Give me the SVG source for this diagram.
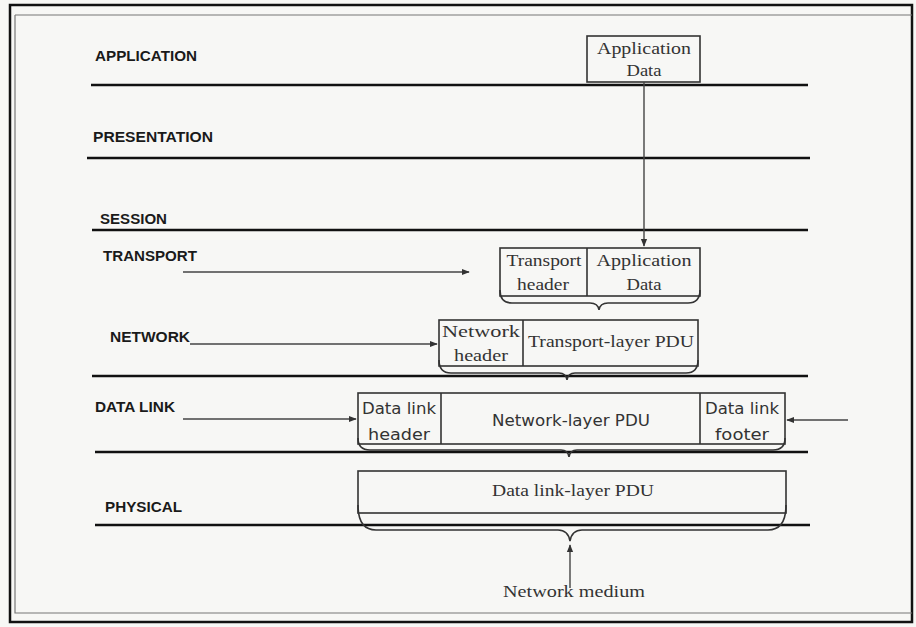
<svg xmlns="http://www.w3.org/2000/svg" width="916" height="627" viewBox="0 0 916 627">
<defs>
<style>
.bg{fill:#f7f7f5}
.frame{fill:none;stroke:#111;stroke-width:2.5}
.inner{fill:none;stroke:#777;stroke-width:1.2}
.layer{stroke:#111;stroke-width:2.6}
.lbl{font-family:"Liberation Sans",Arial,sans-serif;font-weight:bold;font-size:14px;fill:#1a1a1a}
.box{fill:none;stroke:#333;stroke-width:1.6}
.div{stroke:#333;stroke-width:1.6}
.brace{fill:none;stroke:#333;stroke-width:1.6}
.t{font-family:"Liberation Serif","Times New Roman",serif;font-size:17px;fill:#333;text-anchor:middle}
.ts{font-family:"DejaVu Sans","Liberation Sans",sans-serif;font-size:15.5px;fill:#333;text-anchor:middle}
.arr{stroke:#444;stroke-width:1.4;fill:none}
</style>
<marker id="ah" viewBox="0 0 10 10" refX="9" refY="5" markerWidth="8" markerHeight="8" orient="auto" markerUnits="userSpaceOnUse">
<path d="M0,1 L10,5 L0,9 Z" fill="#333"/>
</marker>
</defs>
<rect class="bg" x="0" y="0" width="916" height="627"/>
<rect class="frame" x="10" y="5" width="902" height="617"/>
<path class="inner" d="M15,15 H912 M15,15 V613 H912"/>

<g id="layers">
<text class="lbl" x="95" y="61" textLength="102" lengthAdjust="spacingAndGlyphs">APPLICATION</text>
<text class="lbl" x="93" y="142" textLength="120" lengthAdjust="spacingAndGlyphs">PRESENTATION</text>
<text class="lbl" x="100" y="224" textLength="67" lengthAdjust="spacingAndGlyphs">SESSION</text>
<text class="lbl" x="103" y="261" textLength="94" lengthAdjust="spacingAndGlyphs">TRANSPORT</text>
<text class="lbl" x="110" y="342" textLength="80" lengthAdjust="spacingAndGlyphs">NETWORK</text>
<text class="lbl" x="95" y="412" textLength="80" lengthAdjust="spacingAndGlyphs">DATA LINK</text>
<text class="lbl" x="105" y="512" textLength="77" lengthAdjust="spacingAndGlyphs">PHYSICAL</text>
<line class="layer" x1="91" y1="85" x2="808" y2="85"/>
<line class="layer" x1="87" y1="158" x2="810" y2="158"/>
<line class="layer" x1="92" y1="230" x2="808" y2="230"/>
<line class="layer" x1="92" y1="376" x2="808" y2="376"/>
<line class="layer" x1="95" y1="452" x2="808" y2="452"/>
<line class="layer" x1="95" y1="525" x2="810" y2="525"/>
</g>

<g id="app-data">
<rect class="box" x="587" y="36" width="113" height="46"/>
<text class="t" x="644" y="54" textLength="94" lengthAdjust="spacingAndGlyphs">Application</text>
<text class="t" x="644" y="76" textLength="35" lengthAdjust="spacingAndGlyphs">Data</text>
</g>

<g id="transport-pdu">
<rect class="box" x="500" y="248" width="200" height="48"/>
<line class="div" x1="587" y1="248" x2="587" y2="296"/>
<text class="t" x="544" y="266" textLength="75" lengthAdjust="spacingAndGlyphs">Transport</text>
<text class="t" x="543" y="290" textLength="52" lengthAdjust="spacingAndGlyphs">header</text>
<text class="t" x="644" y="266" textLength="95" lengthAdjust="spacingAndGlyphs">Application</text>
<text class="t" x="644" y="290" textLength="35" lengthAdjust="spacingAndGlyphs">Data</text>
<path class="brace" d="M500,290 Q500,303 512,303 L590,303 Q598,303 599,310 Q600,303 608,303 L688,303 Q700,303 700,290"/>
</g>

<g id="network-pdu">
<rect class="box" x="439" y="320" width="259" height="46"/>
<line class="div" x1="523" y1="320" x2="523" y2="366"/>
<text class="t" x="481" y="337" textLength="78" lengthAdjust="spacingAndGlyphs">Network</text>
<text class="t" x="481" y="361" textLength="54" lengthAdjust="spacingAndGlyphs">header</text>
<text class="t" x="611" y="347" textLength="166" lengthAdjust="spacingAndGlyphs">Transport-layer PDU</text>
<path class="brace" d="M439,360 Q439,373 451,373 L559,373 Q566,373 567,380 Q568,373 575,373 L686,373 Q698,373 698,360"/>
</g>

<g id="datalink-pdu">
<rect class="box" x="358" y="393" width="427" height="51"/>
<line class="div" x1="441" y1="393" x2="441" y2="444"/>
<line class="div" x1="700" y1="393" x2="700" y2="444"/>
<text class="ts" x="399" y="414" textLength="74" lengthAdjust="spacingAndGlyphs">Data link</text>
<text class="ts" x="399" y="440" textLength="62" lengthAdjust="spacingAndGlyphs">header</text>
<text class="ts" x="742" y="414" textLength="74" lengthAdjust="spacingAndGlyphs">Data link</text>
<text class="ts" x="742" y="440" textLength="54" lengthAdjust="spacingAndGlyphs">footer</text>
<text class="ts" x="571" y="426" textLength="158" lengthAdjust="spacingAndGlyphs">Network-layer PDU</text>
<path class="brace" d="M358,438 Q358,450 370,450 L561,450 Q568,450 569,457 Q570,450 577,450 L773,450 Q785,450 785,438"/>
</g>

<g id="physical-pdu">
<rect class="box" x="358" y="471" width="428" height="42"/>
<text class="t" x="573" y="496" textLength="162" lengthAdjust="spacingAndGlyphs">Data link-layer PDU</text>
<path class="brace" d="M358,505 Q358,530 376,530 L558,530 Q568,530 570,541 Q572,530 582,530 L768,530 Q786,530 786,505"/>
</g>

<g id="medium">
<text class="t" x="574" y="597" textLength="142" lengthAdjust="spacingAndGlyphs">Network medium</text>
</g>

<g id="connectors">
<line class="arr" x1="644" y1="82" x2="644" y2="246" marker-end="url(#ah)"/>
<line class="arr" x1="183" y1="272" x2="469" y2="272" marker-end="url(#ah)"/>
<line class="arr" x1="190" y1="344" x2="437" y2="344" marker-end="url(#ah)"/>
<line class="arr" x1="183" y1="419" x2="356" y2="419" marker-end="url(#ah)"/>
<line class="arr" x1="848" y1="420" x2="787" y2="420" marker-end="url(#ah)"/>
<line class="arr" x1="570" y1="588" x2="570" y2="545" marker-end="url(#ah)"/>
</g>
</svg>
